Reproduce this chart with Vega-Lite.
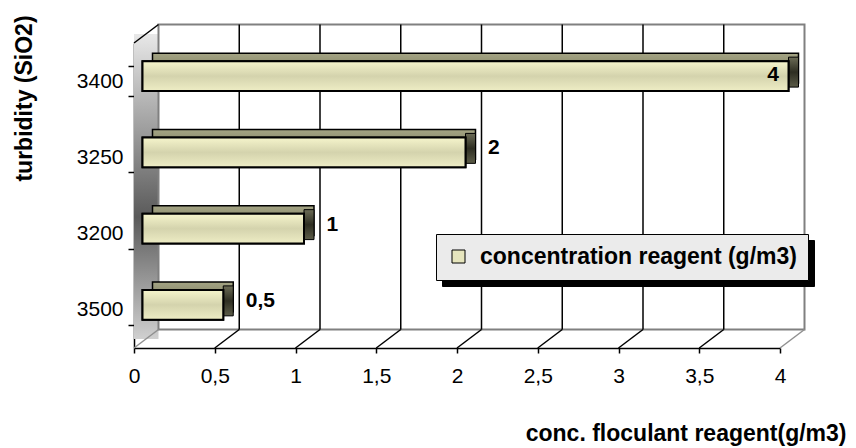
{
  "$schema": "https://vega.github.io/schema/vega-lite/v6.json",
  "width": 646,
  "height": 305,
  "autosize": {"type": "none"},
  "padding": {"left": 134, "top": 43, "right": 76, "bottom": 100},
  "background": "white",
  "config": {
    "view": {"stroke": null},
    "font": "Liberation Sans",
    "locale": {"number": {"decimal": ",", "thousands": ".", "grouping": [3], "currency": ["", " €"]}},
    "axisX": {"format": "~g", "labelFlush": false,
      "domainColor": "black", "domainWidth": 1.5, "tickColor": "black", "tickWidth": 1.5, "tickSize": 5,
      "labelFontSize": 21, "labelPadding": 12, "labelColor": "black", "labelFont": "Liberation Sans", "grid": false,
      "titleFontSize": 23, "titleFontWeight": "bold", "titleColor": "black", "titleFont": "Liberation Sans",
      "titleAlign": "right", "titleAnchor": "end", "titleX": 712, "titleY": 92, "titleBaseline": "alphabetic"},
    "axisY": {"domainColor": "black", "domainWidth": 1.5, "tickColor": "black", "tickWidth": 1.5, "tickSize": 6, "tickBand": "extent",
      "labelFontSize": 21, "labelColor": "black", "labelPadding": 5, "labelFont": "Liberation Sans",
      "titleFontSize": 23, "titleFontWeight": "bold", "titleColor": "black", "titleFont": "Liberation Sans",
      "titleX": -110, "titleY": 55, "titleBaseline": "middle", "titleAngle": -90, "grid": false}
  },
  "datasets": {
    "bars": [
      {"turbidity": "3400", "conc": 4},
      {"turbidity": "3250", "conc": 2},
      {"turbidity": "3200", "conc": 1},
      {"turbidity": "3500", "conc": 0.5}
    ],
    "grid": [
      {"x": 0}, {"x": 0.5}, {"x": 1}, {"x": 1.5}, {"x": 2}, {"x": 2.5}, {"x": 3}, {"x": 3.5}, {"x": 4}
    ]
  },
  "layer": [
    {
      "layer": [
        {
          "data": {"values": [{}]},
          "mark": {"type": "rect", "xOffset": 0, "x2Offset": 24.5, "yOffset": -9, "y2Offset": -9,
            "fill": {"gradient": "linear", "x1": 0, "y1": 0, "x2": 0, "y2": 1,
              "stops": [{"offset": 0, "color": "#e8e8e8"}, {"offset": 0.6, "color": "#5a5a5a"}, {"offset": 1, "color": "#d0d0d0"}]}},
          "encoding": {
            "x": {"datum": 0, "type": "quantitative", "scale": {"domain": [0, 4], "nice": false}, "title": "conc. floculant reagent(g/m3)",
              "axis": {"values": [0, 0.5, 1, 1.5, 2, 2.5, 3, 3.5, 4]}},
            "x2": {"datum": 0},
            "y": {"datum": 0, "type": "quantitative", "scale": {"domain": [0, 1]}, "axis": null},
            "y2": {"datum": 1}
          }
        },
        {
          "data": {"values": [{}]},
          "mark": {"type": "rect", "fill": "white", "stroke": "#808080", "strokeWidth": 2,
            "xOffset": 24.5, "x2Offset": 24.5, "yOffset": -18.5, "y2Offset": -18.5},
          "encoding": {
            "x": {"datum": 0, "type": "quantitative", "scale": {"domain": [0, 4], "nice": false}, "title": "conc. floculant reagent(g/m3)",
              "axis": {"values": [0, 0.5, 1, 1.5, 2, 2.5, 3, 3.5, 4]}},
            "x2": {"datum": 4},
            "y": {"datum": 0, "type": "quantitative", "scale": {"domain": [0, 1]}, "axis": null},
            "y2": {"datum": 1}
          }
        },
        {
          "data": {"name": "grid"},
          "transform": [{"filter": "datum.x > 0 && datum.x < 4"}],
          "mark": {"type": "rule", "stroke": "black", "strokeWidth": 1.5, "xOffset": 24.5, "yOffset": -18.5, "y2Offset": -18.5},
          "encoding": {
            "x": {"field": "x", "type": "quantitative", "scale": {"domain": [0, 4], "nice": false}, "title": "conc. floculant reagent(g/m3)",
              "axis": {"values": [0, 0.5, 1, 1.5, 2, 2.5, 3, 3.5, 4]}},
            "y": {"datum": 0, "type": "quantitative", "scale": {"domain": [0, 1]}, "axis": null},
            "y2": {"datum": 1}
          }
        },
        {
          "data": {"name": "grid"},
          "mark": {"type": "rule", "strokeWidth": 1.5, "x2Offset": 24.5, "y2Offset": -18.5},
          "encoding": {
            "x": {"field": "x", "type": "quantitative", "scale": {"domain": [0, 4], "nice": false}, "title": "conc. floculant reagent(g/m3)",
              "axis": {"values": [0, 0.5, 1, 1.5, 2, 2.5, 3, 3.5, 4]}},
            "x2": {"field": "x"},
            "y": {"datum": 0, "type": "quantitative", "scale": {"domain": [0, 1]}, "axis": null},
            "y2": {"datum": 0},
            "stroke": {"condition": {"test": "datum.x == 0 || datum.x == 4", "value": "#909090"}, "value": "black"}
          }
        },
        {
          "data": {"values": [{}]},
          "mark": {"type": "rule", "stroke": "black", "strokeWidth": 1.5, "x2Offset": 24.5, "y2Offset": -18.5},
          "encoding": {
            "x": {"datum": 0, "type": "quantitative", "scale": {"domain": [0, 4], "nice": false}, "title": "conc. floculant reagent(g/m3)",
              "axis": {"values": [0, 0.5, 1, 1.5, 2, 2.5, 3, 3.5, 4]}},
            "x2": {"datum": 0},
            "y": {"datum": 1, "type": "quantitative", "scale": {"domain": [0, 1]}, "axis": null},
            "y2": {"datum": 1}
          }
        }
      ]
    },
    {
      "data": {"name": "bars"},
      "encoding": {
        "y": {"field": "turbidity", "type": "nominal", "sort": ["3400", "3250", "3200", "3500"],
          "scale": {"paddingInner": 0.607, "paddingOuter": 0.3035}, "title": "turbidity (SiO2)"},
        "x": {"field": "conc", "type": "quantitative", "scale": {"domain": [0, 4], "nice": false}, "title": "conc. floculant reagent(g/m3)",
          "axis": {"values": [0, 0.5, 1, 1.5, 2, 2.5, 3, 3.5, 4]}}
      },
      "layer": [
        {
          "mark": {"type": "bar", "strokeWidth": 1.5, "xOffset": 18.5, "x2Offset": 18.5, "yOffset": -13,
            "fill": {"gradient": "linear", "x1": 0, "y1": 0, "x2": 0, "y2": 1,
              "stops": [{"offset": 0, "color": "#a4a484"}, {"offset": 1, "color": "#6c6c50"}]}},
          "encoding": {
            "stroke": {"datum": "concentration reagent (g/m3) ", "scale": {"range": ["black"]},
              "legend": {"orient": "none", "legendX": 308, "legendY": 197, "title": null, "zindex": 0,
                "labelExpr": "trim(datum.label)",
                "fillColor": "black", "strokeColor": "black", "padding": 11,
                "labelFontSize": 23, "labelFontWeight": "bold", "labelColor": "black", "labelFont": "Liberation Sans", "labelLimit": 500,
                "symbolType": "square", "symbolSize": 169, "symbolFillColor": "black", "symbolStrokeColor": "black", "symbolStrokeWidth": 1,
                "labelOffset": 10}}
          }
        },
        {
          "mark": {"type": "bar", "stroke": "black", "strokeWidth": 1, "xOffset": 8.5, "x2Offset": 18.5, "yOffset": -9,
            "fill": {"gradient": "linear", "x1": 0, "y1": 0, "x2": 0, "y2": 1,
              "stops": [{"offset": 0, "color": "#6c6c56"}, {"offset": 0.5, "color": "#2e2e22"}, {"offset": 1, "color": "#5c5c48"}]}},
          "encoding": {
            "x2": {"field": "conc"}
          }
        },
        {
          "mark": {"type": "bar", "stroke": "black", "strokeWidth": 2, "xOffset": 8.5, "x2Offset": 8.5, "yOffset": -5},
          "encoding": {
            "fill": {"datum": "concentration reagent (g/m3)",
              "scale": {"range": ["#e6e5bd"]},
              "legend": {"orient": "none", "legendX": 302, "legendY": 191, "title": null, "zindex": 1,
                "fillColor": "#ebebeb", "strokeColor": "black", "padding": 11,
                "labelFontSize": 23, "labelFontWeight": "bold", "labelColor": "black", "labelFont": "Liberation Sans", "labelLimit": 500,
                "symbolType": "square", "symbolSize": 169, "symbolStrokeColor": "black", "symbolStrokeWidth": 1,
                "labelOffset": 10}}
          }
        },
        {
          "mark": {"type": "bar", "stroke": "black", "strokeWidth": 2, "xOffset": 8.5, "x2Offset": 8.5, "yOffset": -5,
            "fill": {"gradient": "linear", "x1": 0, "y1": 0, "x2": 0, "y2": 1,
              "stops": [{"offset": 0, "color": "#f6f5cc"}, {"offset": 0.5, "color": "#d4d3ad"}, {"offset": 1, "color": "#eeedc5"}]}}
        },
        {
          "transform": [{"filter": "datum.conc < 4"}],
          "mark": {"type": "text", "align": "left", "baseline": "middle", "dx": 31, "dy": -9,
            "fontSize": 21, "fontWeight": "bold", "font": "Liberation Sans", "fill": "black"},
          "encoding": {
            "text": {"field": "conc", "type": "quantitative", "format": "~g"}
          }
        },
        {
          "transform": [{"filter": "datum.conc >= 4"}],
          "mark": {"type": "text", "align": "right", "baseline": "middle", "dx": -1, "dy": -6,
            "fontSize": 21, "fontWeight": "bold", "font": "Liberation Sans", "fill": "black"},
          "encoding": {
            "text": {"field": "conc", "type": "quantitative", "format": "~g"}
          }
        }
      ]
    }
  ],
  "resolve": {"scale": {"y": "independent"}, "axis": {"y": "independent"}}
}
